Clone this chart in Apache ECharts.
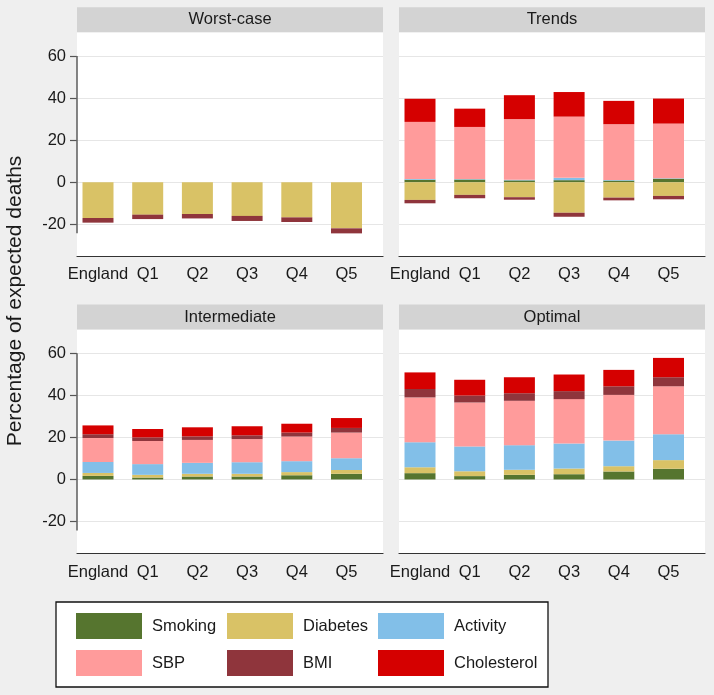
<!DOCTYPE html>
<html>
<head>
<meta charset="utf-8">
<script src="https://cdn.jsdelivr.net/npm/echarts@6/dist/echarts.min.js"></script>
<style>
html,body{margin:0;padding:0;background:#efefef;}
#chart{width:714px;height:695px;}
</style>
</head>
<body>
<div id="chart"></div>
<script>
// ---------- data ----------
const categories = ['England', 'Q1', 'Q2', 'Q3', 'Q4', 'Q5'];
const panelTitles = ['Worst-case', 'Trends', 'Intermediate', 'Optimal'];
const seriesNames = ['Smoking', 'Diabetes', 'Activity', 'SBP', 'BMI', 'Cholesterol'];
const yTicks = [-20, 0, 20, 40, 60];
const yAxisTitle = 'Percentage of expected deaths';

// Worst-case
const worstSmoking    = [0, 0, 0, 0, 0, 0];
const worstDiabetes   = [-17.0, -15.4, -15.1, -16.0, -16.7, -21.9];
const worstActivity   = [0, 0, 0, 0, 0, 0];
const worstSBP        = [0, 0, 0, 0, 0, 0];
const worstBMI        = [-2.2, -2.1, -2.1, -2.4, -2.2, -2.4];
const worstChol       = [0, 0, 0, 0, 0, 0];

// Trends
const trendSmoking    = [1.2, 1.3, 0.9, 1.0, 0.8, 1.7];
const trendDiabetes   = [-8.4, -6.0, -7.1, -14.5, -7.3, -6.5];
const trendActivity   = [0.4, 0.2, 0.3, 1.1, 0.3, 0.2];
const trendSBP        = [27.1, 24.8, 28.8, 29.1, 26.5, 26.0];
const trendBMI        = [-1.6, -1.6, -1.2, -1.9, -1.3, -1.6];
const trendChol       = [11.0, 8.7, 11.4, 11.7, 11.1, 11.9];

// Intermediate
const interSmoking    = [1.7, 0.9, 1.4, 1.4, 2.0, 2.7];
const interDiabetes   = [1.4, 1.3, 1.3, 1.3, 1.5, 1.8];
const interActivity   = [5.2, 5.1, 5.2, 5.5, 5.2, 5.6];
const interSBP        = [11.4, 11.0, 10.9, 11.0, 11.7, 12.2];
const interBMI        = [1.8, 1.7, 1.7, 1.8, 1.9, 2.2];
const interChol       = [4.2, 4.0, 4.3, 4.3, 4.2, 4.7];

// Optimal
const optSmoking      = [3.0, 1.6, 2.2, 2.5, 3.8, 5.1];
const optDiabetes     = [2.8, 2.3, 2.4, 2.7, 2.5, 4.1];
const optActivity     = [11.9, 11.8, 11.7, 11.9, 12.2, 12.3];
const optSBP          = [21.3, 20.9, 21.1, 21.1, 21.7, 22.8];
const optBMI          = [4.0, 3.3, 3.6, 3.8, 4.1, 4.3];
const optChol         = [7.9, 7.5, 7.6, 7.9, 7.8, 9.2];

// ---------- styles / layout ----------
const colors = ['#56752f', '#d9c266', '#82bfe8', '#ff9b9b', '#8f353c', '#d50000'];
const FONT = '"Liberation Sans", Arial, sans-serif';
const FS = 16.5;
const yMin = -35.2, yMax = 71.3;
const PW = 306, PH = 224, HEAD = 25;
const BAND = 49.7, FIRST = 21;

const panelData = [
  [worstSmoking, worstDiabetes, worstActivity, worstSBP, worstBMI, worstChol],
  [trendSmoking, trendDiabetes, trendActivity, trendSBP, trendBMI, trendChol],
  [interSmoking, interDiabetes, interActivity, interSBP, interBMI, interChol],
  [optSmoking, optDiabetes, optActivity, optSBP, optBMI, optChol]
];
const panelPos = [
  {left: 77, top: 32.3, showY: true},
  {left: 399, top: 32.3, showY: false},
  {left: 77, top: 329.5, showY: true},
  {left: 399, top: 329.5, showY: false}
];

// lowest stacked value across panels (axis line extent, Stata style)
let dataMin = 0;
panelData.forEach(arrs => {
  categories.forEach((c, i) => {
    let neg = 0;
    arrs.forEach(a => { if (a[i] < 0) neg += a[i]; });
    dataMin = Math.min(dataMin, neg);
  });
});
const yPix = (top, v) => top + (yMax - v) / (yMax - yMin) * PH;

const grid = [], xAxis = [], yAxis = [], series = [], graphic = [];

panelPos.forEach((p, k) => {
  // frame grid (white plot area, gridlines, y labels, x axis line)
  grid.push({left: p.left, top: p.top, width: PW, height: PH, show: true,
             backgroundColor: '#ffffff', borderWidth: 0, containLabel: false});
  // bar grid (positions bars/labels like Stata's outer gaps)
  grid.push({left: p.left + FIRST - BAND / 2, top: p.top, width: BAND * 6, height: PH,
             show: false, containLabel: false});
  const gA = 2 * k, gB = 2 * k + 1;
  xAxis.push({type: 'category', gridIndex: gA, data: categories,
              axisLine: {show: true, onZero: false, lineStyle: {color: '#333', width: 1.2}},
              axisTick: {show: false}, axisLabel: {show: false}, splitLine: {show: false}});
  xAxis.push({type: 'category', gridIndex: gB, data: categories,
              axisLine: {show: false, onZero: false}, axisTick: {show: false},
              axisLabel: {show: true, interval: 0, margin: 10, fontSize: FS, color: '#1a1a1a', fontFamily: FONT},
              splitLine: {show: false}});
  yAxis.push({type: 'value', gridIndex: gA, min: yMin, max: yMax,
              axisLine: {show: false},
              axisTick: {show: p.showY, customValues: yTicks, length: 7, lineStyle: {color: '#555', width: 1.2}},
              axisLabel: {show: p.showY, customValues: yTicks, margin: 11, fontSize: FS, color: '#1a1a1a', fontFamily: FONT},
              splitLine: {show: true, lineStyle: {color: '#e6e6e6', width: 1}}});
  yAxis.push({type: 'value', gridIndex: gB, min: yMin, max: yMax, show: false,
              splitLine: {show: false}});
  panelData[k].forEach((vals, s) => {
    series.push({type: 'bar', name: seriesNames[s], xAxisIndex: gB, yAxisIndex: gB,
                 stack: 'panel' + k, data: vals, barWidth: 31,
                 itemStyle: {color: colors[s]}, emphasis: {disabled: true}, animation: false});
  });
  // header strip
  graphic.push({type: 'rect', shape: {x: p.left, y: p.top - HEAD, width: PW, height: HEAD},
                style: {fill: '#d3d3d3'}, z: 1});
  graphic.push({type: 'text', x: p.left + PW / 2, y: p.top - HEAD / 2,
                style: {text: panelTitles[k], fontSize: FS, fontFamily: FONT, fill: '#1a1a1a',
                        align: 'center', verticalAlign: 'middle'}, z: 2});
  // y axis line from top tick to data minimum
  if (p.showY) {
    graphic.push({type: 'line', shape: {x1: p.left, y1: yPix(p.top, yTicks[yTicks.length - 1]),
                                        x2: p.left, y2: yPix(p.top, dataMin)},
                  style: {stroke: '#666', lineWidth: 1.6}, z: 3});
  }
});

// y axis title
graphic.push({type: 'text', x: 15, y: 301, rotation: Math.PI / 2,
              style: {text: yAxisTitle, fontSize: 21, fontFamily: FONT, fill: '#1a1a1a',
                      align: 'center', verticalAlign: 'middle'}, z: 2});
// legend box
graphic.push({type: 'rect', shape: {x: 56, y: 602, width: 492, height: 85},
              style: {fill: '#ffffff', stroke: '#111', lineWidth: 1.3}, z: 0});

const legendCols = [['Smoking', 'SBP'], ['Diabetes', 'BMI'], ['Activity', 'Cholesterol']];
const legendLeft = [76, 227, 378];
const legend = legendCols.map((names, i) => ({
  data: names, left: legendLeft[i], top: 613, orient: 'vertical', itemGap: 11,
  itemWidth: 66, itemHeight: 26, padding: 0, icon: 'rect', selectedMode: false, z: 5,
  textStyle: {fontSize: FS, fontFamily: FONT, color: '#1a1a1a', padding: [0, 0, 0, 5]}
}));

const chart = echarts.init(document.getElementById('chart'), null, {renderer: 'canvas'});
chart.setOption({
  backgroundColor: '#efefef',
  animation: false,
  textStyle: {fontFamily: FONT},
  grid, xAxis, yAxis, series, legend, graphic
});
</script>
</body>
</html>
